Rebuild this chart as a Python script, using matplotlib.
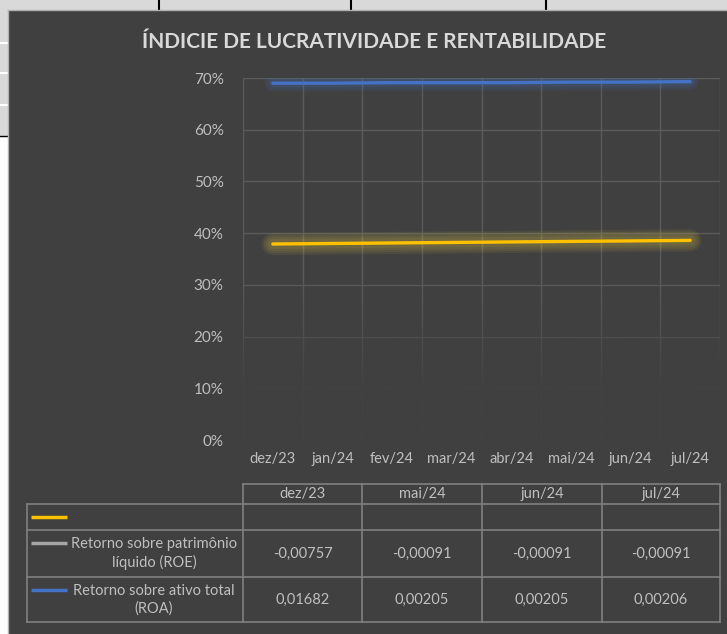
"""Índice de lucratividade e rentabilidade - recriação do gráfico do Excel."""
import numpy as np
import matplotlib
matplotlib.use("Agg")
import matplotlib.pyplot as plt
import matplotlib.patheffects as pe
from matplotlib.patches import Rectangle

plt.rcParams["font.family"] = ["Lato", "DejaVu Sans"]

# --- dados ---
categories = ["dez/23", "jan/24", "fev/24", "mar/24", "abr/24", "mai/24", "jun/24", "jul/24"]
yellow_values = [0.379, 0.380, 0.381, 0.382, 0.383, 0.384, 0.385, 0.386]
roa_line_values = [0.690, 0.690, 0.691, 0.691, 0.691, 0.692, 0.692, 0.693]
y_ticks = [0.0, 0.1, 0.2, 0.3, 0.4, 0.5, 0.6, 0.7]

table_cols = ["dez/23", "mai/24", "jun/24", "jul/24"]
table_rows = ["", "Retorno sobre patrimônio\nlíquido (ROE)", "Retorno sobre ativo total\n(ROA)"]
row_yellow = ["", "", "", ""]
row_roe = ["-0,00757", "-0,00091", "-0,00091", "-0,00091"]
row_roa = ["0,01682", "0,00205", "0,00205", "0,00206"]

BG = "#404040"
GRID = "#5a5a5a"
TXT = "#bfbfbf"
YELLOW = "#ffc000"
BLUE = "#4472c4"
GRAY = "#a5a5a5"
TLINE = "#808080"

W, H = 727, 634
fig = plt.figure(figsize=(W / 100, H / 100), dpi=100, facecolor="white")

# overlay in pixel coords (spreadsheet fragments, chart area, title, table)
ov = fig.add_axes([0, 0, 1, 1], zorder=0)
ov.set_xlim(0, W)
ov.set_ylim(H, 0)
ov.axis("off")

# spreadsheet around the chart
ov.add_patch(Rectangle((0, 0), W, 10, color="#d9d9d9"))
for x in [159, 351, 546]:
    ov.plot([x, x], [0, 9], color="black", lw=1.5)
ov.add_patch(Rectangle((0, 0), 8, 136, color="#d9d9d9"))
for y in [43, 73, 105]:
    ov.plot([0, 7], [y, y], color="white", lw=1.5)
ov.plot([0, 7], [136, 136], color="black", lw=1)
ov.plot([8, 8], [10, H], color="#b0b0b0", lw=1)
ov.plot([8, W], [10, 10], color="#b0b0b0", lw=1)

# chart area
ov.add_patch(Rectangle((9, 11), W - 9, H - 11, color=BG))

ov.text(374, 42, "ÍNDICIE DE LUCRATIVIDADE E RENTABILIDADE", ha="center", va="center",
        fontsize=15, fontweight="bold", color="#d9d9d9")

# --- data table ---
col_edges = [243, 362, 482, 602, 720]
row_edges = [484, 504, 530, 577, 622]
left = 27
ov.plot([243, 720], [484, 484], color=TLINE, lw=1.2)
for x in col_edges:
    ov.plot([x, x], [484, 622], color=TLINE, lw=1.2)
ov.plot([left, left], [504, 622], color=TLINE, lw=1.2)
for y in row_edges[1:]:
    ov.plot([left, 720], [y, y], color=TLINE, lw=1.2)
for i, c in enumerate(table_cols):
    ov.text((col_edges[i] + col_edges[i + 1]) / 2, 494, c, ha="center", va="center",
            fontsize=10.5, color=TXT)

keys = [YELLOW, GRAY, BLUE]
rows = [row_yellow, row_roe, row_roa]
for r in range(3):
    y0, y1 = row_edges[r + 1], row_edges[r + 2]
    yc = (y0 + y1) / 2
    key_y = yc if r == 0 else y0 + 13
    ov.plot([31, 67], [key_y, key_y], color=keys[r], lw=2.5, solid_capstyle="butt")
    if table_rows[r]:
        ov.text(154, yc, table_rows[r], ha="center", va="center", fontsize=10.5,
                color=TXT, linespacing=1.3)
    for i, v in enumerate(rows[r]):
        ov.text((col_edges[i] + col_edges[i + 1]) / 2, yc, v, ha="center", va="center",
                fontsize=10.5, color=TXT)

# --- line chart ---
ax = fig.add_axes([243 / W, 1 - 440 / H, 477 / W, 362 / H], zorder=1)
ax.set_facecolor("none")
x = np.arange(len(categories))
ax.set_xlim(-0.5, len(categories) - 0.5)
ax.set_ylim(0, 0.7)

for xv in np.arange(-0.5, len(categories), 1.0):
    ax.axvline(xv, color=GRID, lw=1.0, zorder=1)
for yv in y_ticks:
    ax.axhline(yv, color=GRID, lw=1.0, zorder=1)

# fade grid towards the bottom (Excel soft-edge look)
grad = np.zeros((100, 2, 4))
grad[..., :3] = matplotlib.colors.to_rgb(BG)
alpha = np.clip((0.30 - np.linspace(0, 0.7, 100)) / 0.22, 0, 0.92)
grad[..., 3] = alpha[:, None]
ax.imshow(grad, extent=[-0.5, len(categories) - 0.5, 0, 0.7], origin="lower",
          aspect="auto", zorder=2, interpolation="bilinear")


def glow(color, widths, a):
    return [pe.Stroke(linewidth=w, foreground=color, alpha=a) for w in widths] + [pe.Normal()]


ax.plot(x, yellow_values, color=YELLOW, lw=2.4, solid_capstyle="round", zorder=3,
        path_effects=glow("#d8c040", [16, 13, 10, 7], 0.09))
ax.plot(x, roa_line_values, color=BLUE, lw=2.4, solid_capstyle="round", zorder=3,
        path_effects=glow(BLUE, [12, 9, 6], 0.10))

ax.set_yticks(y_ticks)
ax.set_yticklabels([f"{int(round(v * 100))}%" for v in y_ticks])
ax.set_xticks(x)
ax.set_xticklabels(categories)
ax.tick_params(axis="both", length=0, colors=TXT, labelsize=10.5)
ax.tick_params(axis="y", pad=14, labelsize=11)
ax.tick_params(axis="x", pad=9)
for s in ax.spines.values():
    s.set_visible(False)

fig.savefig("out.png", dpi=100, facecolor="white")
